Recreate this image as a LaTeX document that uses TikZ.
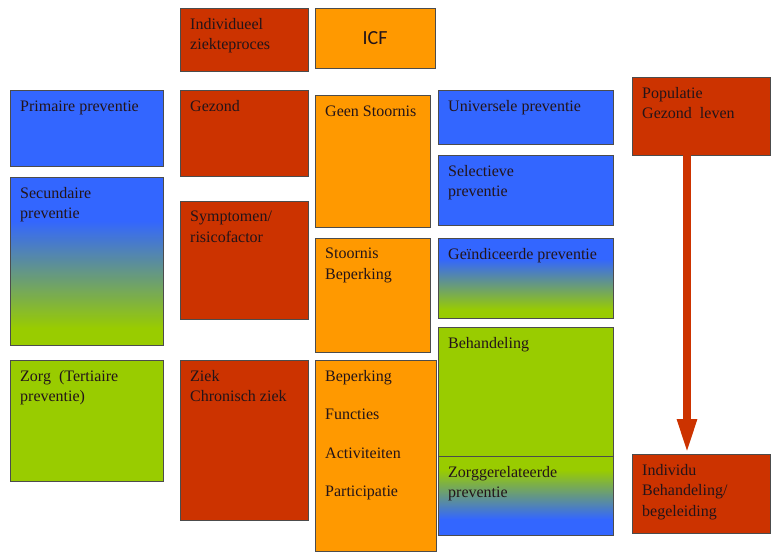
\documentclass[tikz,border=0pt]{standalone}
\usepackage{fontspec}
\setmainfont{Liberation Serif}
\newfontfamily\icffont{Carlito}
\usepackage{tikz}
\usetikzlibrary{arrows.meta}

\definecolor{boxred}{RGB}{204,51,0}
\definecolor{boxorange}{RGB}{255,153,0}
\definecolor{boxblue}{RGB}{51,102,255}
\definecolor{boxgreen}{RGB}{153,204,0}
\definecolor{textdark}{RGB}{35,20,25}
\pgfdeclareverticalshading{bluegreen}{100bp}{color(0bp)=(boxgreen); color(30bp)=(boxgreen); color(62bp)=(boxblue); color(100bp)=(boxblue)}
\pgfdeclareverticalshading{greenblue}{100bp}{color(0bp)=(boxblue); color(35bp)=(boxblue); color(66bp)=(boxgreen); color(100bp)=(boxgreen)}

\begin{document}
\begin{tikzpicture}[x=1pt, y=-1pt,
  box/.style={draw=black!70, line width=0.7pt, anchor=north west, inner sep=0pt, outer sep=0pt},
  red box/.style={box, fill=boxred},
  orange box/.style={box, fill=boxorange},
  blue box/.style={box, fill=boxblue},
  green box/.style={box, fill=boxgreen},
  txt/.style={anchor=north west, inner sep=0pt, xshift=10pt, yshift=-10pt,
    execute at begin node=\rule{0pt}{11pt},
    align=left, text=textdark, font=\fontsize{16}{20.5}\selectfont},
  big arrow/.style={draw=boxred, line width=8pt, -{Triangle[length=35pt, width=18pt]}}
  ]
  \useasboundingbox (0,0) rectangle (780,560);

  % left column
  \node[blue box, minimum width=153pt, minimum height=76pt,
    label={[txt]north west:Primaire preventie}] (prim) at (10,90) {};
  \node[box, shading=bluegreen, minimum width=153pt, minimum height=168pt,
    label={[txt]north west:Secundaire\\preventie}] (sec) at (10,177) {};
  \node[green box, minimum width=153pt, minimum height=121pt,
    label={[txt]north west:Zorg\ \ (Tertiaire\\preventie)}] (zorg) at (10,360) {};

  % ziekteproces
  \node[red box, minimum width=128pt, minimum height=63pt,
    label={[txt]north west:Individueel\\ziekteproces}] (indiv) at (180,8) {};
  \node[red box, minimum width=128pt, minimum height=86pt,
    label={[txt]north west:Gezond}] (gezond) at (180,90) {};
  \node[red box, minimum width=128pt, minimum height=118pt,
    label={[txt]north west:Symptomen/\\risicofactor}] (sympt) at (180,201) {};
  \node[red box, minimum width=128pt, minimum height=160pt,
    label={[txt]north west:Ziek\\Chronisch ziek}] (ziek) at (180,360) {};

  % ICF
  \node[orange box, minimum width=120pt, minimum height=60pt, text=textdark,
    font=\icffont\fontsize{20}{22}\selectfont] (icf) at (315,8) {ICF};
  \node[orange box, minimum width=115pt, minimum height=132pt,
    label={[txt]north west:Geen Stoornis}] (geen) at (315,95) {};
  \node[orange box, minimum width=115pt, minimum height=114pt,
    label={[txt]north west:Stoornis\\Beperking}] (stoor) at (315,238) {};
  \node[orange box, minimum width=121pt, minimum height=191pt,
    label={[txt]north west:Beperking\\[18pt]Functies\\[18pt]Activiteiten\\[18pt]Participatie}] (bep) at (315,360) {};

  % preventie
  \node[blue box, minimum width=175pt, minimum height=54pt,
    label={[txt]north west:Universele preventie}] (univ) at (438,90) {};
  \node[blue box, minimum width=175pt, minimum height=70pt,
    label={[txt]north west:Selectieve\\preventie}] (sel) at (438,155) {};
  \node[box, shading=bluegreen, minimum width=175pt, minimum height=80pt,
    label={[txt]north west:Geïndiceerde preventie}] (geind) at (438,238) {};
  \node[green box, minimum width=175pt, minimum height=129pt,
    label={[txt]north west:Behandeling}] (behan) at (438,327) {};
  \node[box, shading=greenblue, minimum width=175pt, minimum height=79pt,
    label={[txt]north west:Zorggerelateerde\\preventie}] (zgp) at (438,456) {};

  % populatie -> individu
  \node[red box, minimum width=138pt, minimum height=78pt,
    label={[txt]north west:Populatie\\Gezond\ \ leven}] (pop) at (632,77) {};
  \node[red box, minimum width=138pt, minimum height=79pt,
    label={[txt]north west:Individu\\Behandeling/\\begeleiding}] (ind) at (632,454) {};

  \draw[big arrow] ([xshift=-14pt]pop.south) -- ([xshift=-14pt]ind.north);
\end{tikzpicture}
\end{document}
